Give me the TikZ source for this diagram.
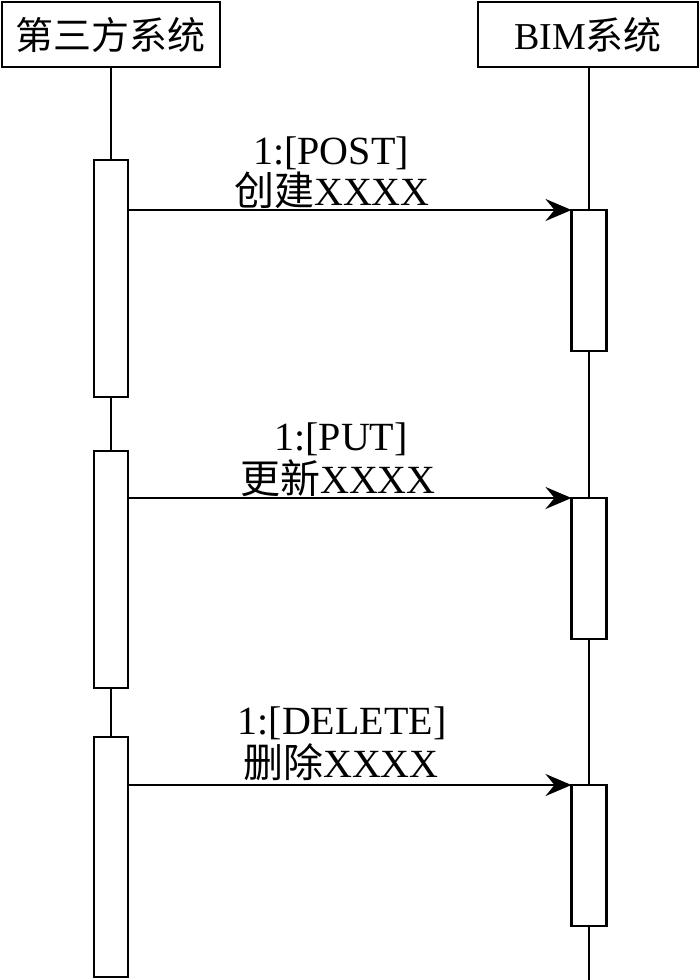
\documentclass[tikz,border=0pt]{standalone}
\usepackage{fontspec}
\setmainfont{Liberation Serif}
\newfontfamily\cjk{Noto Sans CJK SC}
\usetikzlibrary{arrows.meta}
\begin{document}
\begin{tikzpicture}[x=1pt,y=-1pt,
  every node/.style={inner sep=0pt,outer sep=0pt},
  head/.style={draw,line width=2.2pt,minimum width=218pt,minimum height=65pt,font=\fontsize{38}{40}\selectfont},
  act/.style={draw,line width=2.2pt,fill=white,minimum width=34pt},
  life/.style={line width=2.2pt},
  msg/.style={line width=2.2pt,-{Stealth[length=26pt,width=22pt,inset=9pt]}},
  lbl/.style={font=\fontsize{40}{40}\selectfont,align=center}]
\useasboundingbox (0,0) rectangle (700,980);
% heads
\node[head] (A) at (111,34.5) {{\cjk 第三方系统}};
\node[head,minimum width=220pt] (B) at (588,34.5) {BIM{\cjk 系统}};
% left activations
\node[act,minimum height=237pt] (la1) at (111,278.5) {};
\node[act,minimum height=237pt] (la2) at (111,569.5) {};
\node[act,minimum height=240pt] (la3) at (111,857) {};
% right activations
\node[act,minimum width=35pt,minimum height=141pt] (ra1) at (589,280.5) {};
\node[act,minimum width=35pt,minimum height=141pt] (ra2) at (589,568.5) {};
\node[act,minimum width=35pt,minimum height=141pt] (ra3) at (589,855.5) {};
\coordinate (Bend) at (589,980);
% lifelines
\draw[life] (A.south) -- (la1.north);
\draw[life] (la1.south) -- (la2.north);
\draw[life] (la2.south) -- (la3.north);
\draw[life] (B.south -| ra1.north) -- (ra1.north);
\draw[life] (ra1.south) -- (ra2.north);
\draw[life] (ra2.south) -- (ra3.north);
\draw[life] (ra3.south) -- (Bend);
% messages
\draw[msg] (ra1.north west -| la1.east) -- (ra1.north west);
\draw[msg] (ra2.north west -| la2.east) -- (ra2.north west);
\draw[msg] (ra3.north west -| la3.east) -- (ra3.north west);
% labels
\node[lbl] (m1a) at (331,153) {1:[POST]};
\node[lbl] (m1b) at (332,190) {{\cjk 创建}XXXX};
\node[lbl] (m2a) at (341,439) {1:[PUT]};
\node[lbl] (m2b) at (338,478) {{\cjk 更新}XXXX};
\node[lbl] (m3a) at (342,723) {1:[DELETE]};
\node[lbl] (m3b) at (341,762) {{\cjk 删除}XXXX};
\end{tikzpicture}
\end{document}
